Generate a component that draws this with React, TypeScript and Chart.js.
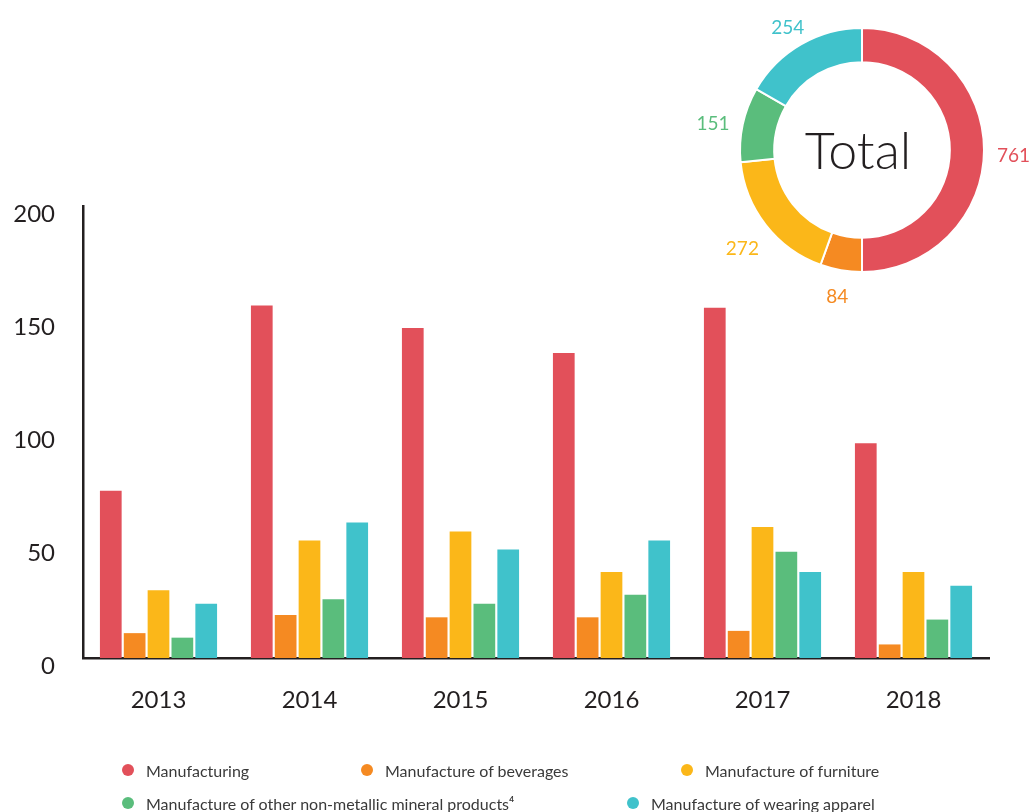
import React, { useEffect, useRef } from 'react';
import { Chart, registerables } from 'chart.js';

Chart.register(...registerables);

const years = ['2013', '2014', '2015', '2016', '2017', '2018'];
const seriesNames = [
  'Manufacturing',
  'Manufacture of beverages',
  'Manufacture of furniture',
  'Manufacture of other non-metallic mineral products⁴',
  'Manufacture of wearing apparel',
];
const manufacturing = [74, 156, 146, 135, 155, 95];
const beverages = [11, 19, 18, 18, 12, 6];
const furniture = [30, 52, 56, 38, 58, 38];
const nonMetallic = [9, 26, 24, 28, 47, 17];
const apparel = [24, 60, 48, 52, 38, 32];
const totals = [761, 84, 272, 151, 254];
const totalLabel = 'Total';
const colors = ['#E2505A', '#F58A22', '#FBB719', '#5ABD7C', '#40C2CB'];
const yMin = 0;
const yMax = 200;
const yStep = 50;

const FONT = 'Lato, "Noto Sans", sans-serif';
const INK = '#231F20';

export default function App() {
  const barRef = useRef<HTMLCanvasElement | null>(null);
  const pieRef = useRef<HTMLCanvasElement | null>(null);

  useEffect(() => {
    document.body.style.margin = '0';
    const series = [manufacturing, beverages, furniture, nonMetallic, apparel];
    const bar = new Chart(barRef.current as HTMLCanvasElement, {
      type: 'bar',
      data: {
        labels: years,
        datasets: series.map((d, i) => ({
          label: seriesNames[i],
          data: d,
          backgroundColor: colors[i],
          barPercentage: 0.91,
          categoryPercentage: 0.79,
        })),
      },
      options: {
        responsive: false,
        maintainAspectRatio: false,
        animation: false,
        layout: { padding: { top: 206, right: 44, bottom: 0, left: 0 } },
        plugins: { legend: { display: false }, tooltip: { enabled: false } },
        scales: {
          x: {
            grid: { display: false, drawTicks: false },
            border: { display: true, color: INK, width: 2.5 },
            ticks: { color: INK, font: { family: FONT, size: 24 }, padding: 28 },
            afterFit: (s: any) => { s.height = 154; },
          },
          y: {
            min: yMin,
            max: yMax,
            grid: { display: false, drawTicks: false },
            border: { display: true, color: INK, width: 2.5 },
            ticks: {
              stepSize: yStep,
              color: INK,
              font: { family: FONT, size: 24 },
              padding: 28,
              labelOffset: 8,
            },
            afterFit: (s: any) => { s.width = 83; },
          },
        },
      },
    });

    const labelPlugin = {
      id: 'ringLabels',
      afterDraw(chart: any) {
        const ctx = chart.ctx;
        const meta = chart.getDatasetMeta(0);
        ctx.save();
        ctx.textAlign = 'center';
        ctx.textBaseline = 'middle';
        ctx.font = `19px ${FONT}`;
        meta.data.forEach((arc: any, i: number) => {
          const p = arc.getProps(['x', 'y', 'startAngle', 'endAngle', 'outerRadius'], true);
          const a = (p.startAngle + p.endAngle) / 2;
          const txt = String(totals[i]);
          const w = ctx.measureText(txt).width;
          const r = p.outerRadius + 13 + Math.abs(Math.cos(a)) * w / 2 + Math.abs(Math.sin(a)) * 6;
          ctx.fillStyle = colors[i];
          ctx.fillText(txt, p.x + Math.cos(a) * r, p.y + Math.sin(a) * r + 6);
        });
        const c = meta.data[0];
        ctx.fillStyle = INK;
        ctx.font = `300 52px ${FONT}`;
        ctx.fillText(totalLabel, c.x - 4, c.y + 2);
        ctx.restore();
      },
    };

    const pie = new Chart(pieRef.current as HTMLCanvasElement, {
      type: 'doughnut',
      data: {
        labels: seriesNames,
        datasets: [{
          data: totals,
          backgroundColor: colors,
          borderColor: '#ffffff',
          borderWidth: 2,
        }],
      },
      options: {
        responsive: false,
        maintainAspectRatio: false,
        animation: false,
        cutout: '72%',
        layout: { padding: { top: 27, right: 48, bottom: 37, left: 49 } },
        plugins: { legend: { display: false }, tooltip: { enabled: false } },
      },
      plugins: [labelPlugin],
    });

    return () => {
      bar.destroy();
      pie.destroy();
    };
  }, []);

  const legendPos = [
    { x: 122, y: 770 },
    { x: 361, y: 770 },
    { x: 681, y: 770 },
    { x: 122, y: 803 },
    { x: 627, y: 803 },
  ];

  return (
    <div style={{ position: 'relative', width: 1033, height: 812, background: '#fff', overflow: 'hidden' }}>
      <canvas ref={barRef} width={1033} height={812} style={{ position: 'absolute', left: 0, top: 0 }} />
      <canvas ref={pieRef} width={343} height={310} style={{ position: 'absolute', left: 690, top: 0 }} />
      {seriesNames.map((n, i) => (
        <div
          key={n}
          style={{
            position: 'absolute',
            left: legendPos[i].x,
            top: legendPos[i].y - 10,
            height: 20,
            display: 'flex',
            alignItems: 'center',
            fontFamily: FONT,
            fontSize: 16,
            color: '#3a3a3a',
            whiteSpace: 'nowrap',
          }}
        >
          <span style={{ display: 'inline-block', width: 12, height: 12, borderRadius: 6, background: colors[i], marginRight: 12 }} />
          <span>{n}</span>
        </div>
      ))}
    </div>
  );
}
